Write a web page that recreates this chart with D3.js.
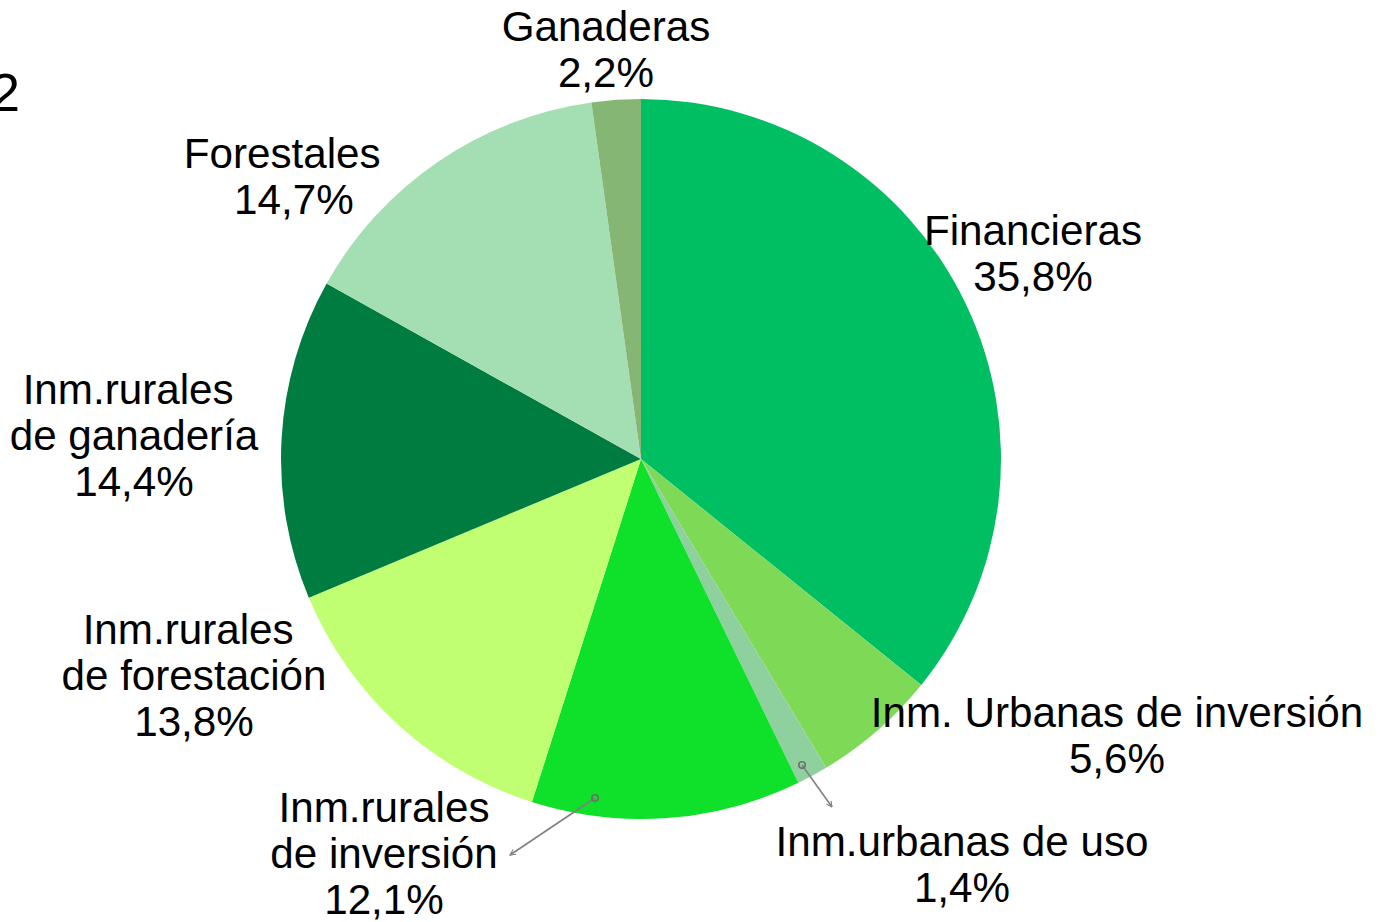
<!DOCTYPE html>
<html>
<head>
<meta charset="utf-8">
<script src="https://cdn.jsdelivr.net/npm/d3@7"></script>
<style>
  html, body { margin: 0; padding: 0; background: #fff; }
  svg { display: block; font-family: "Liberation Sans", Arial, sans-serif; }
  text { white-space: pre; }
</style>
</head>
<body>
<div id="graph"></div>
<script>
// data
var categories = [
  "Financieras",
  "Inm. Urbanas de inversión",
  "Inm.urbanas de uso",
  "Inm.rurales de inversión",
  "Inm.rurales de forestación",
  "Inm.rurales de ganadería",
  "Forestales",
  "Ganaderas"
];
var shares = [35.8, 5.6, 1.4, 12.1, 13.8, 14.4, 14.7, 2.2];
// label lines as typed in the original (trailing/leading spaces kept)
var labelLines = [
  ["Financieras"],
  ["Inm. Urbanas de inversión"],
  ["Inm.urbanas de uso"],
  ["Inm.rurales", "de inversión"],
  ["Inm.rurales ", "de forestación"],
  ["Inm.rurales ", "de ganadería"],
  ["Forestales "],
  ["Ganaderas"]
];
var pctPrefix = ["", "", "", "", "", "", " ", ""];
var colors = ["#00bf63", "#7ed957", "#8fd19e", "#0fe02a", "#c1ff72", "#007c41", "#a4dfb4", "#86b673"];

// layout
var width = 1384, height = 922;
var cx = 641, cy = 459, radius = 360;
var fontSize = 42.2, lineH = 46;
// label anchor: centre x, first baseline y
var labelPos = [
  [1033, 245], [1117, 727], [962, 856], [384, 822],
  [194, 644], [134, 404], [288, 168], [606, 41]
];
// leader lines: start (relative to pie centre), end (absolute)
var leaders = [
  { idx: 3, start: [-46, 339], end: [510, 855] },
  { idx: 2, start: [161, 306], end: [832, 807] }
];

var svg = d3.select("#graph")
  .append("svg")
    .attr("width", width)
    .attr("height", height);

var defs = svg.append("defs");
defs.append("marker")
    .attr("id", "arrow")
    .attr("viewBox", "0 0 10 10")
    .attr("refX", 9).attr("refY", 5)
    .attr("markerWidth", 7).attr("markerHeight", 7)
    .attr("markerUnits", "userSpaceOnUse")
    .attr("orient", "auto")
  .append("path")
    .attr("d", "M1,1 L9,5 L1,9")
    .attr("fill", "none")
    .attr("stroke", "#808080")
    .attr("stroke-width", 1.6);

var pieData = d3.pie().sort(null).value(d => d)(shares);
var arc = d3.arc().innerRadius(0).outerRadius(radius);

var g = svg.append("g").attr("transform", `translate(${cx}, ${cy})`);
g.selectAll("path.slice")
  .data(pieData)
  .enter()
  .append("path")
    .attr("class", "slice")
    .attr("d", arc)
    .attr("fill", (d, i) => colors[i]);

// leader lines
leaders.forEach(function(l) {
  var x0 = cx + l.start[0], y0 = cy + l.start[1];
  svg.append("line")
    .attr("x1", x0).attr("y1", y0)
    .attr("x2", l.end[0]).attr("y2", l.end[1])
    .attr("stroke", "#808080")
    .attr("stroke-width", 1.6)
    .attr("marker-end", "url(#arrow)");
  svg.append("circle")
    .attr("cx", x0).attr("cy", y0).attr("r", 3.2)
    .attr("fill", "none")
    .attr("stroke", "#6f6f6f")
    .attr("stroke-width", 1.6);
});

// labels
var fmt = v => d3.format(".1f")(v).replace(".", ",") + "%";
categories.forEach(function(c, i) {
  var lines = labelLines[i].concat([pctPrefix[i] + fmt(shares[i])]);
  var t = svg.append("text")
    .attr("text-anchor", "middle")
    .style("font-size", fontSize + "px")
    .attr("fill", "#000");
  lines.forEach(function(s, k) {
    t.append("tspan")
      .attr("x", labelPos[i][0])
      .attr("y", labelPos[i][1] + k * lineH)
      .text(s);
  });
});

// clipped title fragment at the left edge
svg.append("text")
  .attr("x", 20)
  .attr("y", 111)
  .attr("text-anchor", "end")
  .style("font-size", "54px")
  .text("2");
</script>
</body>
</html>
